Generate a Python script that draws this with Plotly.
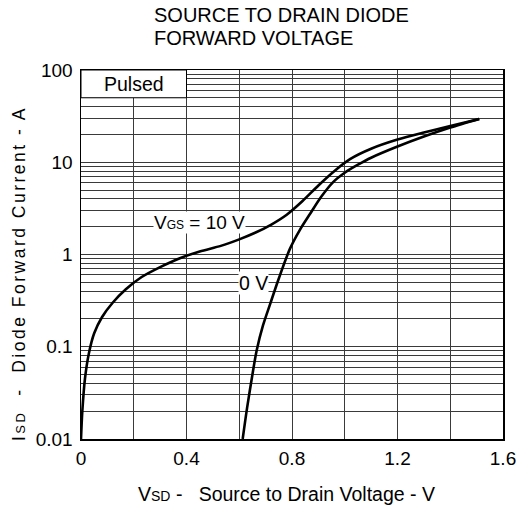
import plotly.graph_objects as go

# ---- data ----
vgs10_v = [0.0, 0.005, 0.015, 0.03, 0.05, 0.08, 0.12, 0.17, 0.23, 0.30, 0.37, 0.45, 0.53, 0.60, 0.66, 0.72, 0.78, 0.84, 0.90, 0.96, 1.02, 1.10, 1.20, 1.30, 1.40, 1.51]
vgs10_i = [0.01, 0.02, 0.045, 0.085, 0.14, 0.21, 0.30, 0.42, 0.57, 0.73, 0.90, 1.08, 1.24, 1.46, 1.72, 2.1, 2.7, 3.8, 5.6, 8.0, 10.8, 14.0, 17.6, 21.0, 24.7, 29.5]

vgs0_v = [0.613, 0.63, 0.65, 0.666, 0.69, 0.717, 0.75, 0.792, 0.83, 0.87, 0.91, 0.956, 1.0, 1.05, 1.10, 1.20, 1.30, 1.40, 1.51]
vgs0_i = [0.01, 0.022, 0.05, 0.091, 0.17, 0.29, 0.55, 1.15, 1.85, 2.8, 4.2, 6.1, 7.7, 9.4, 11.2, 14.8, 19.0, 23.8, 29.5]

x_grid = [0, 0.2, 0.4, 0.6, 0.8, 1.0, 1.2, 1.4, 1.6]
x_labels = ["0", "", "0.4", "", "0.8", "", "1.2", "", "1.6"]
decades = [0.01, 0.1, 1, 10]
decade_labels = {0.01: "0.01", 0.1: "0.1", 1: "1", 10: "10", 100: "100"}

title_line1 = "SOURCE TO DRAIN DIODE"
title_line2 = "FORWARD VOLTAGE"
x_title = "V<span style='font-size:14px'>SD</span> -   Source to Drain Voltage - V"
y_title = ("<span style='letter-spacing:2.5px'>I<span style='font-size:13px'>SD</span>"
           "  -  Diode Forward Current - A</span>")
label_10v = "V<span style='font-size:12px'>GS</span> = 10 V"
label_0v = "0 V"

# y gridline values (1..9 per decade)
y_vals, y_text = [], []
for d in decades:
    for m in range(1, 10):
        v = round(d * m, 6)
        y_vals.append(v)
        y_text.append(decade_labels.get(v, ""))
y_vals.append(100)
y_text.append("100")

FONT = "Liberation Sans, Arial, sans-serif"
W, H = 521, 510
PL, PR, PT, PB = 81, 503, 70, 439   # plot area in pixels
L, T, R, B = PL, PT, W - PR, H - PB


def px2paper(px, py):
    return (px - PL) / (PR - PL), (PB - py) / (PB - PT)


fig = go.Figure()
for xs, ys in [(vgs10_v, vgs10_i), (vgs0_v, vgs0_i)]:
    fig.add_trace(go.Scatter(x=xs, y=ys, mode="lines",
                             line=dict(color="black", width=2.6, shape="spline", smoothing=0.8),
                             showlegend=False, hoverinfo="skip"))

fig.update_layout(
    width=W, height=H,
    margin=dict(l=L, r=R, t=T, b=B, autoexpand=False),
    paper_bgcolor="white", plot_bgcolor="white",
    font=dict(family=FONT, color="black", size=19),
    showlegend=False,
    xaxis=dict(range=[0, 1.6], tickvals=x_grid, ticktext=x_labels,
               showgrid=True, gridcolor="#3a3a3a", gridwidth=1,
               showline=True, linecolor="black", linewidth=1.5, mirror=True,
               ticks="", zeroline=False, automargin=False, ticklabelstandoff=2),
    yaxis=dict(type="log", range=[-2, 2], tickvals=y_vals, ticktext=y_text,
               showgrid=True, gridcolor="#3a3a3a", gridwidth=1,
               showline=True, linecolor="black", linewidth=1.5, mirror=True,
               ticks="", zeroline=False, automargin=False, ticklabelstandoff=3),
)

# "Pulsed" box (white patch over the grid)
fig.add_shape(type="rect", xref="x", yref="y", x0=0, x1=0.4, y0=50, y1=100,
              fillcolor="white", line=dict(color="black", width=1), layer="above")

annotations = []
px, py = px2paper(134, 84)
annotations.append(dict(x=px, y=py, text="Pulsed"))
px, py = px2paper(199, 222)
annotations.append(dict(x=px, y=py, text=label_10v, bgcolor="white", font=dict(size=19)))
px, py = px2paper(253, 283)
annotations.append(dict(x=px, y=py, text=label_0v, bgcolor="white"))
px, py = px2paper(153, 15)
annotations.append(dict(x=px, y=py, text=title_line1, xanchor="left", font=dict(size=20)))
px, py = px2paper(153, 38.5)
annotations.append(dict(x=px, y=py, text=title_line2, xanchor="left", font=dict(size=20)))
px, py = px2paper(286, 494)
annotations.append(dict(x=px, y=py, text=x_title))
px, py = px2paper(19, 274)
annotations.append(dict(x=px, y=py, text=y_title, textangle=-90, font=dict(size=17.5)))

for a in annotations:
    a.setdefault("font", dict(size=19.5))
    a.setdefault("xanchor", "center")
    a.setdefault("yanchor", "middle")
    fig.add_annotation(xref="paper", yref="paper", showarrow=False, borderpad=0, **a)

fig.write_html("out.html", config={"displayModeBar": False, "staticPlot": True},
               post_script="document.body.style.margin='0';document.body.style.overflow='hidden';")
